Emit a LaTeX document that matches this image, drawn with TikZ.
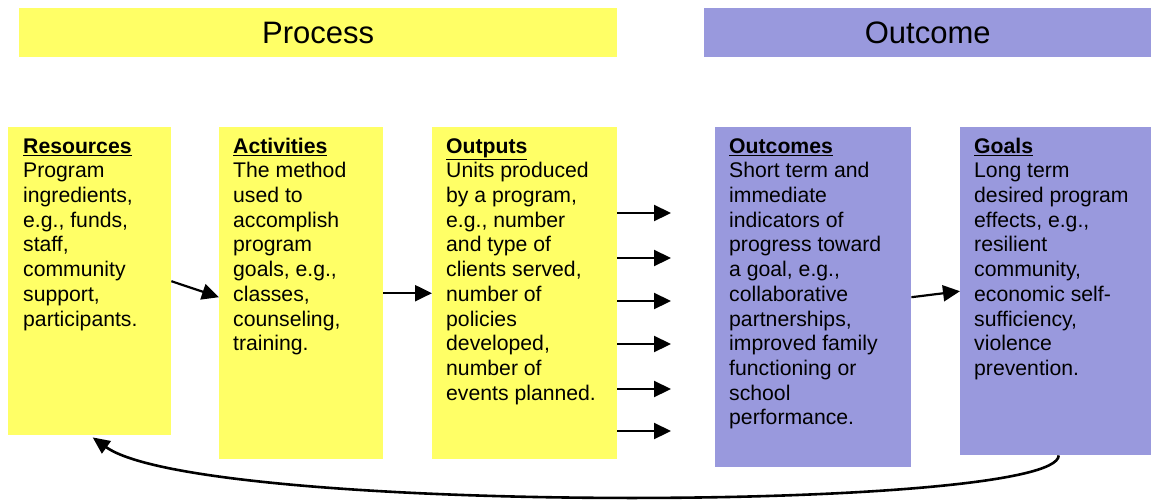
\documentclass[tikz,border=0pt]{standalone}
\usepackage{fontspec}
\setmainfont{Liberation Sans}
\usetikzlibrary{arrows.meta}
\definecolor{ylw}{RGB}{255,255,102}
\definecolor{prp}{RGB}{153,153,221}
\tikzset{
  ybox/.style={fill=ylw, draw=none, anchor=north west, inner sep=0pt},
  pbox/.style={fill=prp, draw=none, anchor=north west, inner sep=0pt},
  txt/.style={anchor=north west, inner sep=0pt, align=left, font=\fontsize{21.2}{24.7}\selectfont},
  hdr/.style={font=\fontsize{31}{36}\selectfont, inner sep=0pt},
  arr/.style={line width=2.2pt, -{Triangle[length=17pt,width=16pt]}},
}
\begin{document}
\begin{tikzpicture}[x=1pt,y=1pt]
\useasboundingbox (0,0) rectangle (1151,-501);
% headers
\node[ybox, minimum width=598, minimum height=49] (proc) at (19,-8) {};
\node[hdr] (proct) at (proc.center) {Process};
\node[pbox, minimum width=447, minimum height=49] (outh) at (704,-8) {};
\node[hdr] (outht) at (outh.center) {Outcome};
% boxes
\node[ybox, minimum width=163, minimum height=308] (res) at (8,-127) {};
\node[ybox, minimum width=164, minimum height=332] (act) at (219,-127) {};
\node[ybox, minimum width=185, minimum height=332] (out) at (432,-127) {};
\node[pbox, minimum width=196, minimum height=340] (outc) at (715,-127) {};
\node[pbox, minimum width=191, minimum height=328] (goal) at (960,-127) {};
% texts
\node[txt] (rest) at (23,-135.7) {\strut\underline{\textbf{Resources}}\\Program\\ingredients,\\e.g., funds,\\staff,\\community\\support,\\participants.};
\node[txt] (actt) at (233,-135.7) {\strut\underline{\textbf{Activities}}\\The method\\used to\\accomplish\\program\\goals, e.g.,\\classes,\\counseling,\\training.};
\node[txt] (outt) at (446,-135.7) {\strut\underline{\textbf{Outputs}}\\Units produced\\by a program,\\e.g., number\\and type of\\clients served,\\number of\\policies\\developed,\\number of\\events planned.};
\node[txt] (outct) at (729,-135.7) {\strut\underline{\textbf{Outcomes}}\\Short term and\\immediate\\indicators of\\progress toward\\a goal, e.g.,\\collaborative\\partnerships,\\improved family\\functioning or\\school\\performance.};
\node[txt] (goalt) at (974,-135.7) {\strut\underline{\textbf{Goals}}\\Long term\\desired program\\effects, e.g.,\\resilient\\community,\\economic self-\\sufficiency,\\violence\\prevention.};
% arrows
\draw[arr] (res.east) -- ([yshift=-4]act.west);
\draw[arr] (act.east) -- (out.west);
\draw[arr] (outc.east) -- (goal.west);
\foreach \i/\y in {1/213,2/258,3/301,4/344,5/389,6/431}{
  \coordinate (o\i) at (671,-\y);
  \draw[arr] (out.east |- o\i) -- (o\i);
}
\draw[line width=2.6pt, -{Triangle[length=17pt,width=15pt]}] ([xshift=3]goal.south) .. controls (1058,-512) and (200,-515) .. ([xshift=3,yshift=-2]res.south);
\end{tikzpicture}
\end{document}
